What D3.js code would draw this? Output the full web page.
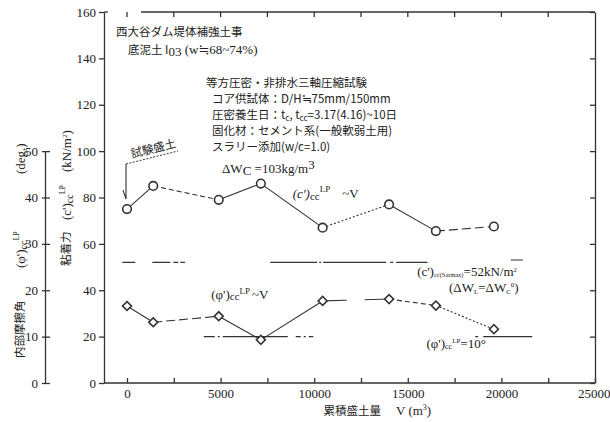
<!DOCTYPE html>
<html><head><meta charset="utf-8">
<script src="https://cdn.jsdelivr.net/npm/d3@7"></script>
<style>
body{margin:0;background:#fff}
text{fill:#222}
.num{font-family:"Liberation Serif","DejaVu Serif",serif;font-size:13px}
.jp{font-family:"Noto Sans CJK JP",sans-serif;font-size:11.5px}
</style>
</head><body>
<svg id="chart" width="610" height="422"></svg>
<script>
// Cumulative fill volume V (m3) at each test
const fillVolume = [0, 1400, 4900, 7150, 10450, 14000, 16500, 19600];
// Cohesion (c')cc^LP in kN/m2
const cohesion = [75, 85, 79, 86, 67, 77, 65.5, 67.5];
// Internal friction angle (phi')cc^LP in degrees
const frictionAngle = [16.6, 13.1, 14.4, 9.3, 17.7, 18.1, 16.7, 11.6];
// Line style of each segment between consecutive tests
const cohesionSegStyles = ["solid", "dash", "solid", "solid", "dot", "solid", "longdash"];
const frictionSegStyles = ["solid", "longdash", "solid", "solid", "gap", "dash", "dot"];

const xTicks = [0, 2500, 5000, 7500, 10000, 12500, 15000, 17500, 20000, 22500, 25000];
const cTicks = [0, 20, 40, 60, 80, 100, 120, 140, 160];
const phiTicks = [0, 10, 20, 30, 40, 50];

// Reference levels and the stretches of V over which they are drawn
const cohesionRef = 52;
const cohesionRefSpans = [[-250, 3100], [7650, 16050]];
const frictionRef = 10;
const frictionRefSpans = [[4100, 9950], [18600, 21650]];

const dashes = {solid: null, dash: "5,3", dot: "2,2", longdash: "9,4", gap: "24,18,40"};
// chain-line patterns, one per span
const cohesionRefDash = ["13,17,18,3,5,2,5", "47,2,2,2,63,4,3,3,40"];
const frictionRefDash = ["11,3,2,3,65,8,5,3,2,3,6", "3,5,60"];

const svg = d3.select("#chart");
const x = d3.scaleLinear().domain([0, 25000]).range([127, 595]);
const y = d3.scaleLinear().domain([0, 160]).range([383, 12]);
// friction angle axis: 50 deg spans the same height as 100 kN/m2
const yPhi = d3.scaleLinear().domain([0, 50]).range([y(0), y(100)]);
const frame = {l: 104, r: 595, t: 12, b: 383};

const ink = "#333";

// ---- frame and axes ----
const gL = svg.append("g").attr("transform", `translate(${frame.l},0)`)
  .call(d3.axisLeft(y).tickValues(cTicks).tickSize(5).tickPadding(3).tickSizeOuter(0));
gL.selectAll("text").attr("class", "num").attr("font-family", null).attr("font-size", null);

svg.append("g").attr("transform", `translate(${frame.r},0)`)
  .call(d3.axisRight(y).tickValues(cTicks).tickSize(-5).tickFormat("").tickSizeOuter(0));

const gB = svg.append("g").attr("transform", `translate(0,${frame.b})`)
  .call(d3.axisBottom(x).tickValues(xTicks).tickSize(-5).tickPadding(6)
    .tickFormat(d => d % 5000 === 0 ? d : "").tickSizeOuter(0));
gB.selectAll("text").attr("class", "num").attr("font-family", null).attr("font-size", null)
  .filter(d => d === 25000).attr("text-anchor", "end").attr("dx", 15);
gB.select(".domain").remove();
svg.append("line").attr("x1", frame.l).attr("x2", frame.r).attr("y1", frame.b).attr("y2", frame.b);

// top edge, interrupted near the corner
svg.append("line").attr("x1", frame.l).attr("x2", frame.l + 4).attr("y1", frame.t).attr("y2", frame.t);
svg.append("line").attr("x1", x(750)).attr("x2", frame.r).attr("y1", frame.t).attr("y2", frame.t);
svg.append("g").selectAll("line").data(xTicks.slice(0, -1)).join("line")
  .attr("x1", d => x(d)).attr("x2", d => x(d)).attr("y1", frame.t).attr("y2", frame.t + 5);

// secondary friction angle axis
const gP = svg.append("g").attr("transform", "translate(45,0)")
  .call(d3.axisRight(yPhi).tickValues(phiTicks).tickSize(5).tickSizeOuter(0).tickFormat(""));
gP.selectAll(".tick line").attr("x1", -3);
svg.append("g").selectAll("text").data(phiTicks).join("text")
  .attr("class", "num").attr("x", 38).attr("y", d => yPhi(d)).attr("dy", "0.35em")
  .attr("text-anchor", "end").text(d => d);

svg.selectAll(".domain, .tick line, line").attr("stroke", ink).attr("stroke-width", 1.3);

// ---- axis titles (vertical, read bottom to top) ----
function vText(cx, startY, parts, cls, fs) {
  const t = svg.append("text").attr("class", cls).attr("font-size", fs)
    .attr("transform", `translate(${cx},${startY}) rotate(-90)`).attr("dy", "0.35em");
  parts.forEach(p => {
    const s = t.append("tspan").text(p.t);
    if (p.dy) s.attr("dy", p.dy);
    if (p.fs) s.attr("font-size", p.fs);
  });
}
vText(20, 358, [{t: "内部摩擦角"}], "jp", 13.5);
vText(20, 268, [{t: "(φ')"}, {t: "cc", fs: 10, dy: 2}, {t: "LP", fs: 8, dy: -8}], "num", 13);
vText(20, 174, [{t: "(deg.)"}], "num", 12.5);
vText(66, 266, [{t: "粘着力"}], "jp", 12.5);
vText(66, 220, [{t: "(c')"}, {t: "cc", fs: 10, dy: 2}, {t: "LP", fs: 8, dy: -8}], "num", 13);
vText(66, 172, [{t: "(kN/m"}, {t: "2", fs: 7, dy: -4}, {t: ")", dy: 4}], "num", 11.5);

svg.append("text").attr("class", "jp").attr("font-size", 12.5).attr("x", 381).attr("y", 415)
  .attr("text-anchor", "end").text("累積盛土量");
const xt = svg.append("text").attr("class", "num").attr("x", 396).attr("y", 415);
xt.append("tspan").text("V   (m");
xt.append("tspan").attr("font-size", 8).attr("dy", -5).text("3");
xt.append("tspan").attr("dy", 5).text(")");

// ---- reference lines ----
function refLines(spans, val, dash) {
  svg.append("g").selectAll("line").data(spans).join("line")
    .attr("x1", d => x(d[0])).attr("x2", d => x(d[1]))
    .attr("y1", y(val)).attr("y2", y(val))
    .attr("stroke", ink).attr("stroke-width", 1.3).attr("stroke-dasharray", (d, i) => dash[i]);
}
refLines(cohesionRefSpans, cohesionRef, cohesionRefDash);
refLines(frictionRefSpans, frictionRef * 2, frictionRefDash);

// ---- series ----
function series(vals, styles, toY) {
  const pts = fillVolume.map((v, i) => [x(v), toY(vals[i])]);
  svg.append("g").selectAll("line").data(d3.pairs(pts)).join("line")
    .attr("x1", d => d[0][0]).attr("y1", d => d[0][1])
    .attr("x2", d => d[1][0]).attr("y2", d => d[1][1])
    .attr("stroke", ink).attr("stroke-width", 1.1)
    .attr("stroke-dasharray", (d, i) => dashes[styles[i]]);
  return pts;
}
const cPts = series(cohesion, cohesionSegStyles, y);
const pPts = series(frictionAngle, frictionSegStyles, d => yPhi(d));

svg.append("g").selectAll("circle").data(cPts).join("circle")
  .attr("cx", d => d[0]).attr("cy", d => d[1]).attr("r", 4.3)
  .attr("fill", "#fff").attr("stroke", ink).attr("stroke-width", 1.6);
svg.append("g").selectAll("path").data(pPts).join("path")
  .attr("transform", d => `translate(${d[0]},${d[1]}) rotate(45)`)
  .attr("d", d3.symbol(d3.symbolSquare, 40))
  .attr("fill", "#fff").attr("stroke", ink).attr("stroke-width", 1.6);

// ---- series labels ----
function label(px, py, parts, fs) {
  const t = svg.append("text").attr("x", px).attr("y", py).attr("class", "num")
    .attr("font-size", fs);
  parts.forEach(p => {
    const s = t.append("tspan").text(p.t);
    if (p.dy) s.attr("dy", p.dy);
    if (p.fs) s.attr("font-size", p.fs);
    if (p.it) s.attr("font-style", "italic");
    if (p.dx) s.attr("dx", p.dx);
  });
}
label(x(8850), 198, [{t: "(c')", it: 1}, {t: "cc", fs: 11, dy: 2}, {t: "LP", fs: 9, dy: -8},
  {t: "~V", dy: 6, dx: 12}], 14);
label(x(4500), 299, [{t: "(φ')"}, {t: "cc", fs: 11, dy: 1}, {t: "LP", fs: 9, dy: -6},
  {t: "~V", dy: 5, dx: 2}], 14);
label(x(15500), 276, [{t: "(c')"}, {t: "cc(Satmax)", fs: 6.5, dy: 1}, {t: "=52kN/m", dy: -1},
  {t: "2", fs: 6.5, dy: -4}], 9.5);
label(x(17200), 292, [{t: "(ΔW"}, {t: "L", fs: 7, dy: 2}, {t: "=ΔW", dy: -2},
  {t: "C", fs: 7, dy: 2}, {t: "0", fs: 7, dy: -7}, {t: ")", dy: 5}], 10.5);
label(x(16000), 348, [{t: "(φ')"}, {t: "cc", fs: 8, dy: 1}, {t: "LP", fs: 7, dy: -6},
  {t: "=10°", dy: 5}], 10.5);
svg.append("line").attr("x1", x(20500)).attr("x2", x(21150))
  .attr("y1", 260).attr("y2", 260).attr("stroke", ink).attr("stroke-width", 1);

// ---- test conditions ----
const notes = svg.append("g").attr("class", "jp");
notes.append("text").attr("x", 116).attr("y", 36).text("西大谷ダム堤体補強土事");
const n2 = notes.append("text").attr("x", 128).attr("y", 54);
n2.append("tspan").text("底泥土 I");
n2.append("tspan").attr("class", "num").attr("font-size", 8).attr("dy", 2).text("03");
n2.append("tspan").attr("class", "num").attr("font-size", 12).attr("dy", -2).text("  (w≒68~74%)");

const lineY = [87, 103, 119, 135, 151];
notes.append("text").attr("x", 206).attr("y", lineY[0]).text("等方圧密・非排水三軸圧縮試験");
notes.append("text").attr("x", 212).attr("y", lineY[1]).text("コア供試体：D/H≒75mm/150mm");
const l3 = notes.append("text").attr("x", 212).attr("y", lineY[2]);
l3.append("tspan").text("圧密養生日：t");
l3.append("tspan").attr("font-size", 8).attr("dy", 2).text("c");
l3.append("tspan").attr("dy", -2).text(", t");
l3.append("tspan").attr("font-size", 8).attr("dy", 2).text("cc");
l3.append("tspan").attr("dy", -2).text("=3.17(4.16)~10日");
notes.append("text").attr("x", 212).attr("y", lineY[3]).text("固化材：セメント系(一般軟弱土用)");
notes.append("text").attr("x", 212).attr("y", lineY[4]).text("スラリー添加(w/c=1.0)");
const dw = notes.append("text").attr("x", 222).attr("y", 173);
dw.append("tspan").attr("class", "num").attr("font-size", 12).text("ΔW");
dw.append("tspan").attr("class", "num").attr("font-size", 8).attr("dy", 2).text("C");
dw.append("tspan").attr("class", "num").attr("font-size", 12).attr("dy", -2).text(" =103kg/m");
dw.append("tspan").attr("class", "num").attr("font-size", 8).attr("dy", -4).text("3");

// test fill marker with arrow to the first test
const ax = x(fillVolume[0]) - 1, tipY = y(cohesion[0]) - 10;
svg.append("text").attr("class", "jp").attr("font-size", 10.5)
  .attr("transform", `translate(${ax + 6},${158}) rotate(-14)`).text("試験盛土");
svg.append("line").attr("x1", ax).attr("y1", 164).attr("x2", ax + 52).attr("y2", 151)
  .attr("stroke", ink).attr("stroke-width", 1).attr("stroke-dasharray", "2,1.5");
svg.append("path").attr("d", `M${ax},164 L${ax},${tipY} L${ax - 3},${tipY - 9}`)
  .attr("fill", "none").attr("stroke", ink).attr("stroke-width", 1.1);
</script>
</body></html>
